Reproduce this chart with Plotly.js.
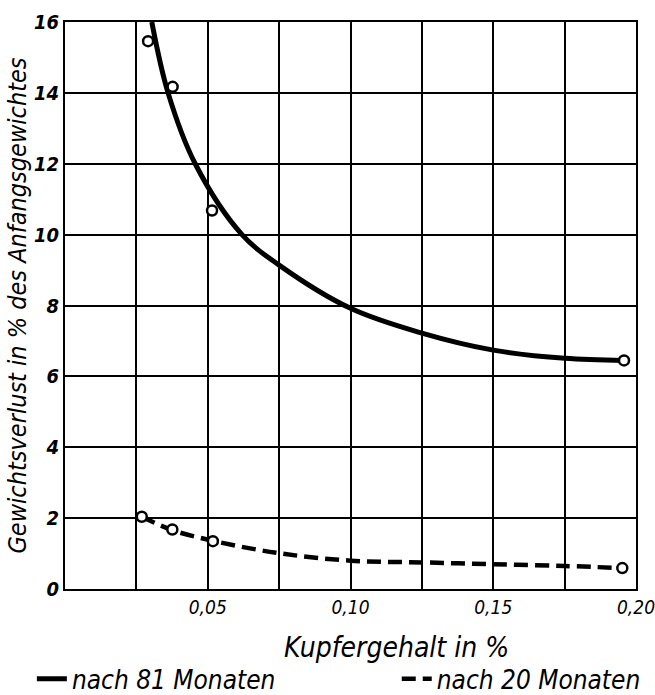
<!DOCTYPE html>
<html>
<head>
<meta charset="utf-8">
<script src="https://cdn.plot.ly/plotly-3.0.1.min.js"></script>
<style>html,body{margin:0;padding:0;background:#fff;}#chart{width:655px;height:695px;}</style>
</head>
<body>
<div id="chart"></div>
<script>
// Measured points (open circles)
var points81X = [0.0291, 0.0377, 0.0515, 0.1958];
var points81Y = [15.46, 14.17, 10.68, 6.45];
var points20X = [0.0269, 0.0376, 0.0518, 0.1952];
var points20Y = [2.04, 1.68, 1.35, 0.59];

// Smoothed curves
var curve81X = [0.0304, 0.0361, 0.0456, 0.062, 0.075, 0.100, 0.125, 0.150, 0.175, 0.1958];
var curve81Y = [16.0, 14.0, 12.0, 10.0, 9.14, 7.92, 7.22, 6.74, 6.51, 6.45];
var curve20X = [0.0269, 0.0376, 0.0518, 0.075, 0.100, 0.125, 0.150, 0.175, 0.1952];
var curve20Y = [2.04, 1.66, 1.36, 1.01, 0.80, 0.75, 0.70, 0.65, 0.59];

var seriesNames = ['nach 81 Monaten', 'nach 20 Monaten'];
var xTitle = 'Kupfergehalt in %';
var yTitle = 'Gewichtsverlust in % des Anfangsgewichtes';

var xTickVals = [0.025, 0.05, 0.075, 0.10, 0.125, 0.15, 0.175, 0.20];
var xTickText = ['', '0,05', '', '0,10', '', '0,15', '', '0,20'];
var yTickVals = [0, 2, 4, 6, 8, 10, 12, 14, 16];
var yTickText = ['0', '2', '4', '6', '8', '10', '12', '14', '16'];

var fontFam = 'DejaVu Sans Condensed, Liberation Sans Narrow, DejaVu Sans, sans-serif';

var traces = [
  {x: curve81X, y: curve81Y, mode: 'lines', name: seriesNames[0], legend: 'legend',
   line: {color: '#000', width: 5, shape: 'spline', smoothing: 1}, hoverinfo: 'skip'},
  {x: curve20X, y: curve20Y, mode: 'lines', name: seriesNames[1], legend: 'legend2',
   line: {color: '#000', width: 4.5, dash: '14px,7px', shape: 'spline', smoothing: 1}, hoverinfo: 'skip'},
  {x: points81X, y: points81Y, mode: 'markers', showlegend: false,
   marker: {symbol: 'circle', size: 10, color: '#fff', line: {color: '#000', width: 2.5}}},
  {x: points20X, y: points20Y, mode: 'markers', showlegend: false,
   marker: {symbol: 'circle', size: 10, color: '#fff', line: {color: '#000', width: 2.5}}}
];

var legFont = {family: fontFam, size: 26, style: 'italic', color: '#000'};
var layout = {
  width: 655, height: 695,
  margin: {l: 65, r: 19, t: 22, b: 106, autoexpand: false},
  paper_bgcolor: '#fff', plot_bgcolor: '#fff',
  showlegend: true,
  legend: {orientation: 'h', x: -0.058, xanchor: 'left', y: -0.1585, yanchor: 'middle',
           font: legFont, itemwidth: 30, bgcolor: 'rgba(0,0,0,0)'},
  legend2: {orientation: 'h', x: 0.581, xanchor: 'left', y: -0.1585, yanchor: 'middle',
           font: legFont, itemwidth: 30, bgcolor: 'rgba(0,0,0,0)'},
  annotations: [
    {text: xTitle, xref: 'paper', yref: 'paper', x: 0.581, y: -0.104,
     xanchor: 'center', yanchor: 'middle', showarrow: false,
     font: {family: fontFam, size: 28, style: 'italic', color: '#000'}}
  ],
  xaxis: {
    range: [0, 0.2], tickmode: 'array', tickvals: xTickVals, ticktext: xTickText,
    showgrid: true, gridcolor: '#000', gridwidth: 2,
    showline: true, linecolor: '#000', linewidth: 2, mirror: true,
    zeroline: false, ticks: '', ticklen: 0, automargin: false, ticklabeloverflow: 'allow',
    tickfont: {family: fontFam, size: 19, style: 'italic', color: '#000'}
  },
  yaxis: {
    range: [0, 16], tickmode: 'array', tickvals: yTickVals, ticktext: yTickText,
    showgrid: true, gridcolor: '#000', gridwidth: 2,
    showline: true, linecolor: '#000', linewidth: 2, mirror: true,
    zeroline: false, ticks: '', ticklen: 0, automargin: false, ticklabeloverflow: 'allow',
    tickfont: {family: fontFam, size: 20, style: 'italic', weight: 'bold', color: '#000'},
    title: {text: yTitle, standoff: 0,
            font: {family: fontFam, size: 25, style: 'italic', color: '#000'}}
  }
};

Plotly.newPlot('chart', traces, layout, {staticPlot: true, displayModeBar: false});
</script>
</body>
</html>
